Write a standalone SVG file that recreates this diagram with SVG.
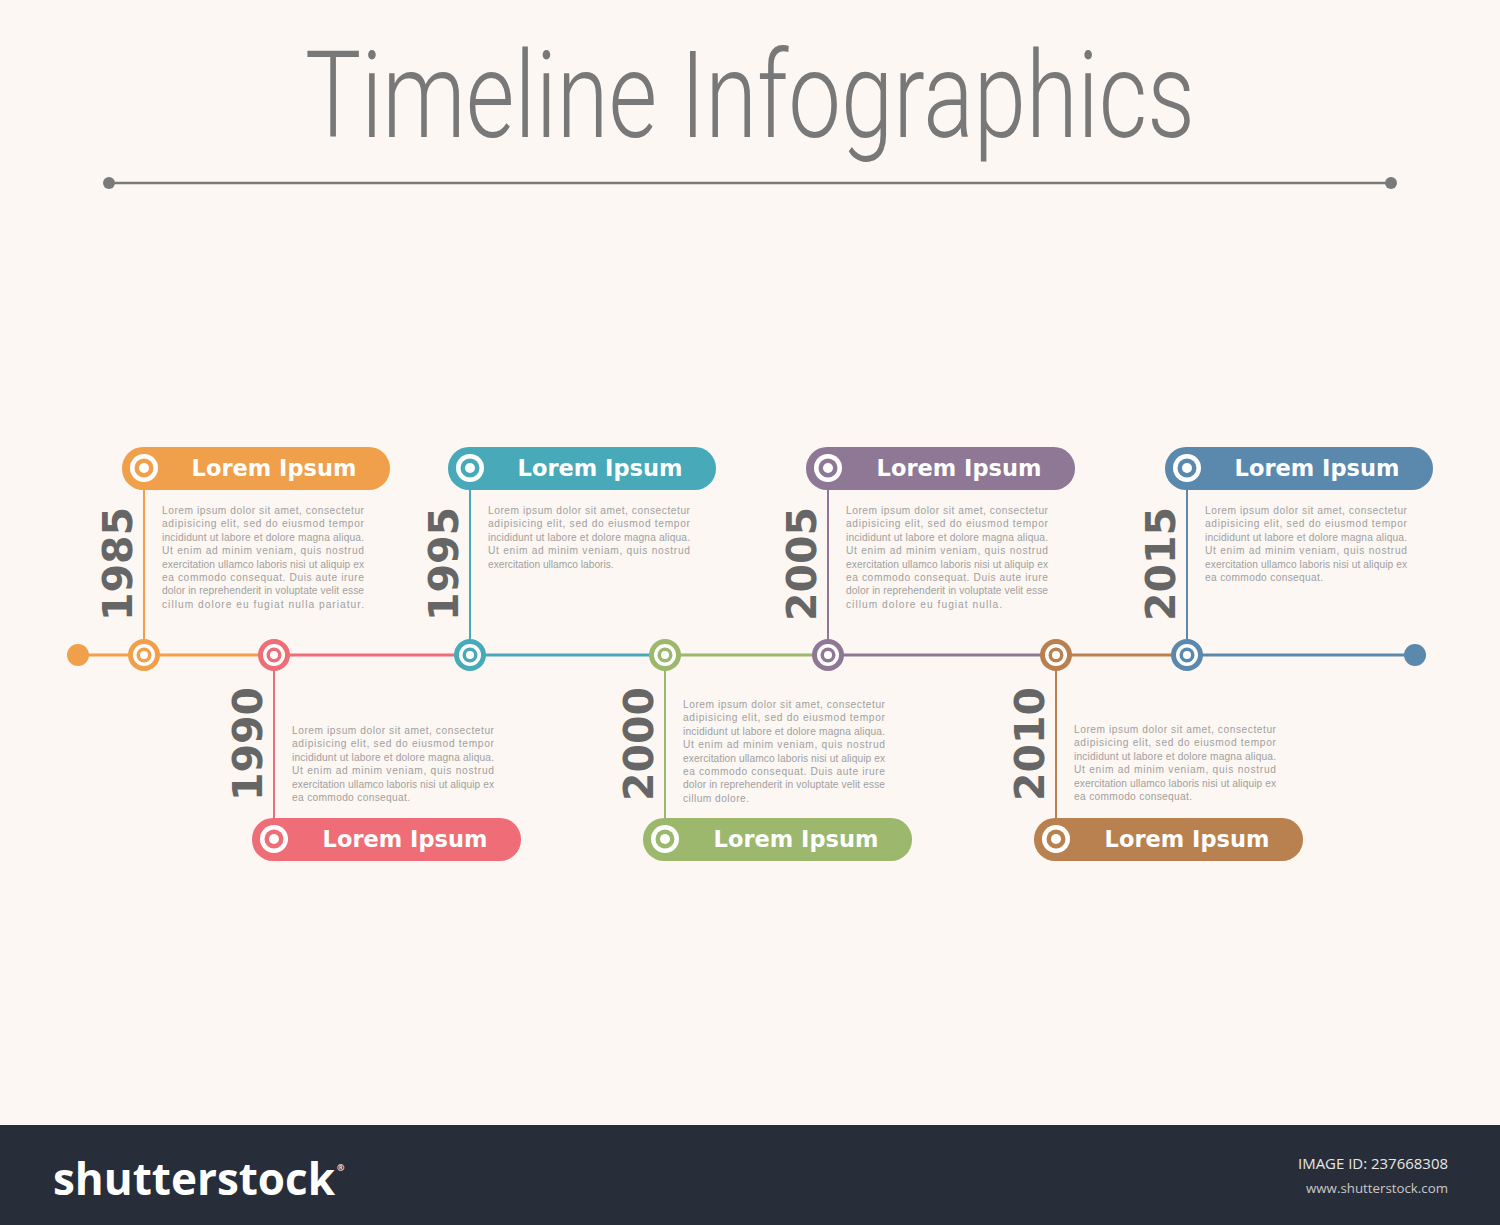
<svg xmlns="http://www.w3.org/2000/svg" width="1500" height="1225" viewBox="0 0 1500 1225">
<style>
.title{font-family:Roboto,"Liberation Sans",sans-serif;font-weight:300;font-size:120px;fill:#787878}
.pill-t{font-family:"DejaVu Sans",Verdana,sans-serif;font-weight:bold;font-size:22.5px;fill:#fff;text-anchor:middle}
.year{font-family:"DejaVu Sans",sans-serif;font-weight:bold;font-size:41px;fill:#666}
.body{font-family:"Liberation Sans",Arial,sans-serif;font-size:10.2px;fill:#a0a0a0}
.seg{stroke-width:3;fill:none}
.conn{stroke-width:2;fill:none}
</style>
<defs>
<g id="ring"><circle r="16" fill="currentColor"/><circle r="11" fill="#fff"/><circle r="7.5" fill="currentColor"/><circle r="4" fill="#fff"/></g>
<g id="picon"><circle r="14" fill="#fff"/><circle r="9.5" fill="currentColor"/><circle r="5" fill="#fff"/></g>
</defs>
<rect width="1500" height="1225" fill="#fcf7f2"/>
<g id="title">
<text class="title" x="750" y="137" text-anchor="middle" textLength="890" lengthAdjust="spacingAndGlyphs">Timeline Infographics</text>
<line x1="109" y1="183" x2="1391" y2="183" stroke="#7a7a7a" stroke-width="2.5"/>
<circle cx="109" cy="183" r="6" fill="#7a7a7a"/><circle cx="1391" cy="183" r="6" fill="#7a7a7a"/>
</g>
<g id="connectors">
<line class="seg" x1="78" y1="655" x2="274" y2="655" stroke="#f0a04b"/>
<line class="seg" x1="274" y1="655" x2="470" y2="655" stroke="#ee6d77"/>
<line class="seg" x1="470" y1="655" x2="665" y2="655" stroke="#48aab8"/>
<line class="seg" x1="665" y1="655" x2="828" y2="655" stroke="#9bb86c"/>
<line class="seg" x1="828" y1="655" x2="1056" y2="655" stroke="#8e7895"/>
<line class="seg" x1="1056" y1="655" x2="1187" y2="655" stroke="#b98150"/>
<line class="seg" x1="1187" y1="655" x2="1415" y2="655" stroke="#5b89ae"/>
<circle cx="78" cy="655" r="11" fill="#f0a04b"/>
<circle cx="1415" cy="655" r="11" fill="#5b89ae"/>
<line class="conn" x1="144" y1="480" x2="144" y2="655" stroke="#f0a04b"/>
<line class="conn" x1="274" y1="655" x2="274" y2="830" stroke="#ee6d77"/>
<line class="conn" x1="470" y1="480" x2="470" y2="655" stroke="#48aab8"/>
<line class="conn" x1="665" y1="655" x2="665" y2="830" stroke="#9bb86c"/>
<line class="conn" x1="828" y1="480" x2="828" y2="655" stroke="#8e7895"/>
<line class="conn" x1="1056" y1="655" x2="1056" y2="830" stroke="#b98150"/>
<line class="conn" x1="1187" y1="480" x2="1187" y2="655" stroke="#5b89ae"/>
</g>

<g id="n1985" color="#f0a04b">
<rect x="122" y="447" width="268" height="43" rx="21" fill="#f0a04b"/>
<use href="#picon" x="144" y="468"/>
<text class="pill-t" x="274" y="476">Lorem Ipsum</text>
<text class="year" transform="translate(132,621) rotate(-90)">1985</text>
<use href="#ring" x="144" y="655"/>
<g class="body">
<text x="162" y="514" textLength="202" lengthAdjust="spacing">Lorem ipsum dolor sit amet, consectetur</text>
<text x="162" y="527.4" textLength="202" lengthAdjust="spacing">adipisicing elit, sed do eiusmod tempor</text>
<text x="162" y="540.8" textLength="202" lengthAdjust="spacing">incididunt ut labore et dolore magna aliqua.</text>
<text x="162" y="554.2" textLength="202" lengthAdjust="spacing">Ut enim ad minim veniam, quis nostrud</text>
<text x="162" y="567.6" textLength="202" lengthAdjust="spacing">exercitation ullamco laboris nisi ut aliquip ex</text>
<text x="162" y="581" textLength="202" lengthAdjust="spacing">ea commodo consequat. Duis aute irure</text>
<text x="162" y="594.4" textLength="202" lengthAdjust="spacing">dolor in reprehenderit in voluptate velit esse</text>
<text x="162" y="607.8" textLength="202" lengthAdjust="spacing">cillum dolore eu fugiat nulla pariatur.</text>
</g>
</g>

<g id="n1990" color="#ee6d77">
<rect x="252" y="818" width="269" height="43" rx="21" fill="#ee6d77"/>
<use href="#picon" x="274" y="839"/>
<text class="pill-t" x="405" y="847">Lorem Ipsum</text>
<text class="year" transform="translate(262,801) rotate(-90)">1990</text>
<use href="#ring" x="274" y="655"/>
<g class="body">
<text x="292" y="734" textLength="202" lengthAdjust="spacing">Lorem ipsum dolor sit amet, consectetur</text>
<text x="292" y="747.4" textLength="202" lengthAdjust="spacing">adipisicing elit, sed do eiusmod tempor</text>
<text x="292" y="760.8" textLength="202" lengthAdjust="spacing">incididunt ut labore et dolore magna aliqua.</text>
<text x="292" y="774.2" textLength="202" lengthAdjust="spacing">Ut enim ad minim veniam, quis nostrud</text>
<text x="292" y="787.6" textLength="202" lengthAdjust="spacing">exercitation ullamco laboris nisi ut aliquip ex</text>
<text x="292" y="801" textLength="118" lengthAdjust="spacing">ea commodo consequat.</text>
</g>
</g>

<g id="n1995" color="#48aab8">
<rect x="448" y="447" width="268" height="43" rx="21" fill="#48aab8"/>
<use href="#picon" x="470" y="468"/>
<text class="pill-t" x="600" y="476">Lorem Ipsum</text>
<text class="year" transform="translate(458,621) rotate(-90)">1995</text>
<use href="#ring" x="470" y="655"/>
<g class="body">
<text x="488" y="514" textLength="202" lengthAdjust="spacing">Lorem ipsum dolor sit amet, consectetur</text>
<text x="488" y="527.4" textLength="202" lengthAdjust="spacing">adipisicing elit, sed do eiusmod tempor</text>
<text x="488" y="540.8" textLength="202" lengthAdjust="spacing">incididunt ut labore et dolore magna aliqua.</text>
<text x="488" y="554.2" textLength="202" lengthAdjust="spacing">Ut enim ad minim veniam, quis nostrud</text>
<text x="488" y="567.6">exercitation ullamco laboris.</text>
</g>
</g>

<g id="n2000" color="#9bb86c">
<rect x="643" y="818" width="269" height="43" rx="21" fill="#9bb86c"/>
<use href="#picon" x="665" y="839"/>
<text class="pill-t" x="796" y="847">Lorem Ipsum</text>
<text class="year" transform="translate(653,801) rotate(-90)">2000</text>
<use href="#ring" x="665" y="655"/>
<g class="body">
<text x="683" y="708" textLength="202" lengthAdjust="spacing">Lorem ipsum dolor sit amet, consectetur</text>
<text x="683" y="721.4" textLength="202" lengthAdjust="spacing">adipisicing elit, sed do eiusmod tempor</text>
<text x="683" y="734.8" textLength="202" lengthAdjust="spacing">incididunt ut labore et dolore magna aliqua.</text>
<text x="683" y="748.2" textLength="202" lengthAdjust="spacing">Ut enim ad minim veniam, quis nostrud</text>
<text x="683" y="761.6" textLength="202" lengthAdjust="spacing">exercitation ullamco laboris nisi ut aliquip ex</text>
<text x="683" y="775" textLength="202" lengthAdjust="spacing">ea commodo consequat. Duis aute irure</text>
<text x="683" y="788.4" textLength="202" lengthAdjust="spacing">dolor in reprehenderit in voluptate velit esse</text>
<text x="683" y="801.8" textLength="66" lengthAdjust="spacing">cillum dolore.</text>
</g>
</g>

<g id="n2005" color="#8e7895">
<rect x="806" y="447" width="269" height="43" rx="21" fill="#8e7895"/>
<use href="#picon" x="828" y="468"/>
<text class="pill-t" x="959" y="476">Lorem Ipsum</text>
<text class="year" transform="translate(816,621) rotate(-90)">2005</text>
<use href="#ring" x="828" y="655"/>
<g class="body">
<text x="846" y="514" textLength="202" lengthAdjust="spacing">Lorem ipsum dolor sit amet, consectetur</text>
<text x="846" y="527.4" textLength="202" lengthAdjust="spacing">adipisicing elit, sed do eiusmod tempor</text>
<text x="846" y="540.8" textLength="202" lengthAdjust="spacing">incididunt ut labore et dolore magna aliqua.</text>
<text x="846" y="554.2" textLength="202" lengthAdjust="spacing">Ut enim ad minim veniam, quis nostrud</text>
<text x="846" y="567.6" textLength="202" lengthAdjust="spacing">exercitation ullamco laboris nisi ut aliquip ex</text>
<text x="846" y="581" textLength="202" lengthAdjust="spacing">ea commodo consequat. Duis aute irure</text>
<text x="846" y="594.4" textLength="202" lengthAdjust="spacing">dolor in reprehenderit in voluptate velit esse</text>
<text x="846" y="607.8" textLength="156" lengthAdjust="spacing">cillum dolore eu fugiat nulla.</text>
</g>
</g>

<g id="n2010" color="#b98150">
<rect x="1034" y="818" width="269" height="43" rx="21" fill="#b98150"/>
<use href="#picon" x="1056" y="839"/>
<text class="pill-t" x="1187" y="847">Lorem Ipsum</text>
<text class="year" transform="translate(1044,801) rotate(-90)">2010</text>
<use href="#ring" x="1056" y="655"/>
<g class="body">
<text x="1074" y="733" textLength="202" lengthAdjust="spacing">Lorem ipsum dolor sit amet, consectetur</text>
<text x="1074" y="746.4" textLength="202" lengthAdjust="spacing">adipisicing elit, sed do eiusmod tempor</text>
<text x="1074" y="759.8" textLength="202" lengthAdjust="spacing">incididunt ut labore et dolore magna aliqua.</text>
<text x="1074" y="773.2" textLength="202" lengthAdjust="spacing">Ut enim ad minim veniam, quis nostrud</text>
<text x="1074" y="786.6" textLength="202" lengthAdjust="spacing">exercitation ullamco laboris nisi ut aliquip ex</text>
<text x="1074" y="800" textLength="118" lengthAdjust="spacing">ea commodo consequat.</text>
</g>
</g>

<g id="n2015" color="#5b89ae">
<rect x="1165" y="447" width="268" height="43" rx="21" fill="#5b89ae"/>
<use href="#picon" x="1187" y="468"/>
<text class="pill-t" x="1317" y="476">Lorem Ipsum</text>
<text class="year" transform="translate(1175,621) rotate(-90)">2015</text>
<use href="#ring" x="1187" y="655"/>
<g class="body">
<text x="1205" y="514" textLength="202" lengthAdjust="spacing">Lorem ipsum dolor sit amet, consectetur</text>
<text x="1205" y="527.4" textLength="202" lengthAdjust="spacing">adipisicing elit, sed do eiusmod tempor</text>
<text x="1205" y="540.8" textLength="202" lengthAdjust="spacing">incididunt ut labore et dolore magna aliqua.</text>
<text x="1205" y="554.2" textLength="202" lengthAdjust="spacing">Ut enim ad minim veniam, quis nostrud</text>
<text x="1205" y="567.6" textLength="202" lengthAdjust="spacing">exercitation ullamco laboris nisi ut aliquip ex</text>
<text x="1205" y="581" textLength="118" lengthAdjust="spacing">ea commodo consequat.</text>
</g>
</g>

<g id="footer">
<rect x="0" y="1125" width="1500" height="100" fill="#282e39"/>
<text x="53" y="1195" font-family="'Open Sans','DejaVu Sans',sans-serif" font-weight="bold" font-size="44" fill="#fff">shutterstock<tspan font-size="9" dy="-24" dx="2">®</tspan></text>
<text x="1448" y="1169" text-anchor="end" font-family="'Open Sans','Liberation Sans',sans-serif" font-size="14" fill="#e6e6e6" textLength="150" lengthAdjust="spacingAndGlyphs">IMAGE ID: 237668308</text>
<text x="1448" y="1193" text-anchor="end" font-family="'Open Sans','Liberation Sans',sans-serif" font-size="13" fill="#c8c8c8" textLength="142" lengthAdjust="spacingAndGlyphs">www.shutterstock.com</text>
</g>
</svg>
